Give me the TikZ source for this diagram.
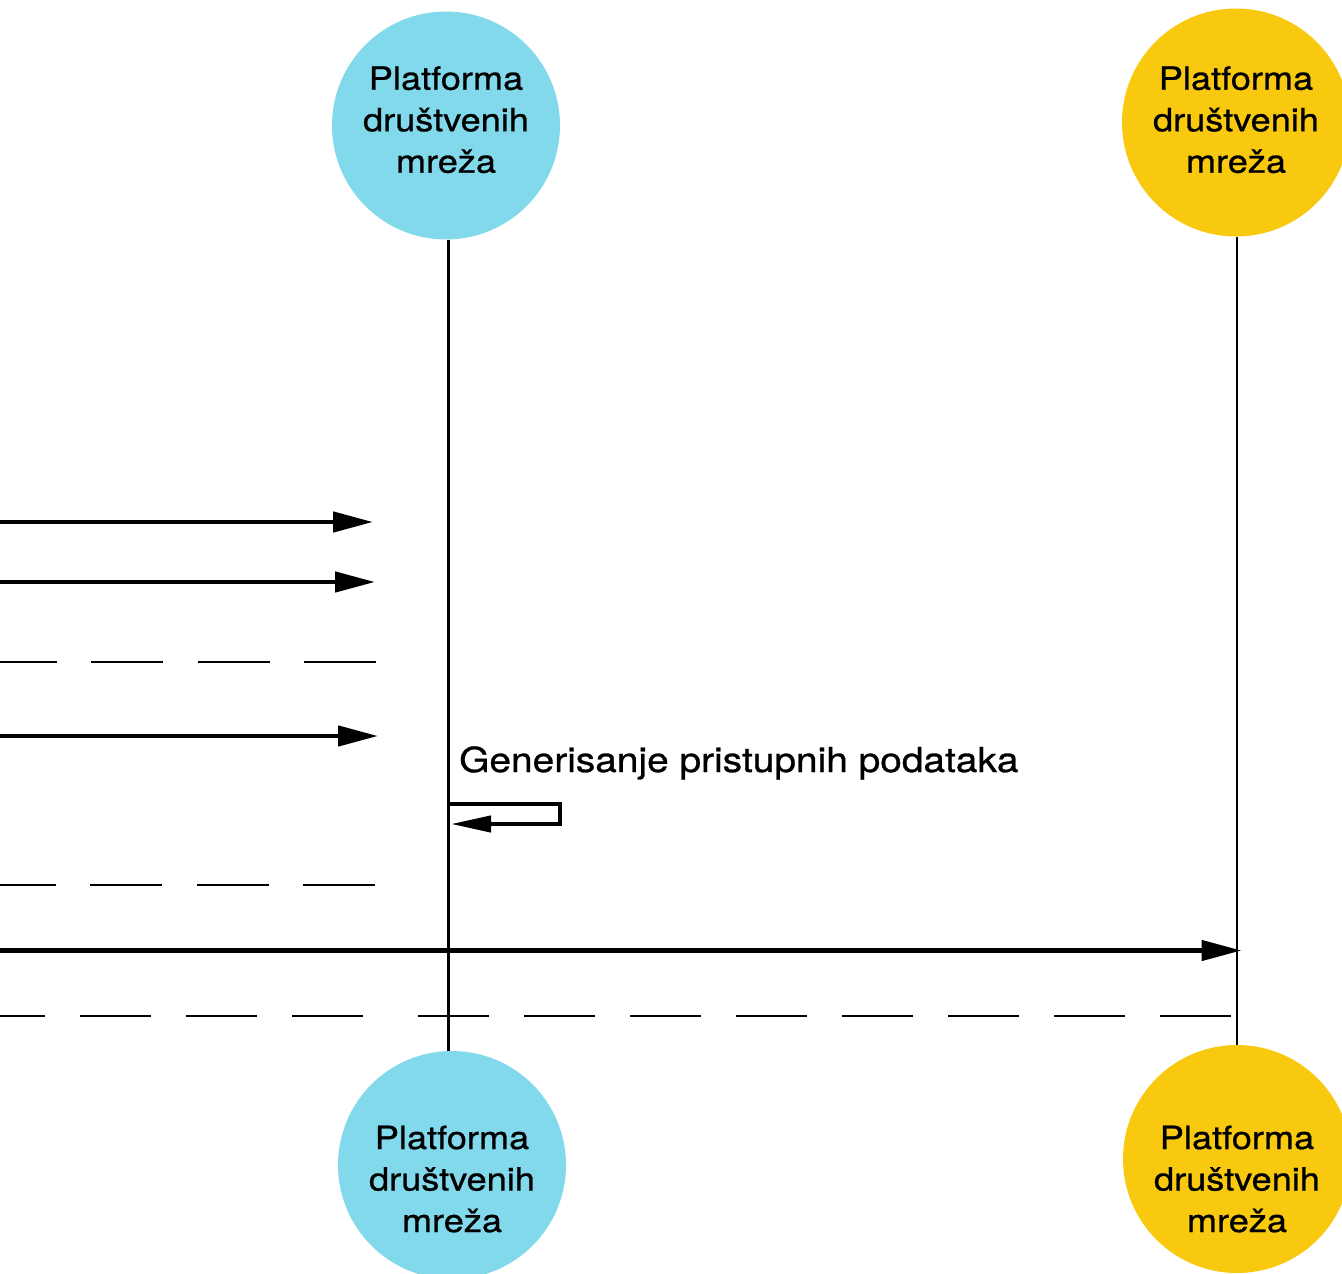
\documentclass[tikz,border=0pt]{standalone}
\usepackage{fontspec}
\setmainfont{TeX Gyre Heros}[FakeStretch=1.13, FakeBold=0.8]
\usetikzlibrary{arrows.meta}

\definecolor{partblue}{RGB}{131,217,236}
\definecolor{partyellow}{RGB}{248,201,14}

\tikzset{
  participant/.style={circle, minimum size=228pt, inner sep=0pt, align=center,
    font=\fontsize{32}{41.5}\selectfont, text depth=12pt},
  footparticipant/.style={participant, text height=134pt, text depth=0pt},
  lifeline/.style={line width=2.3pt},
  msg/.style={line width=4.6pt, -{Triangle[length=40pt,width=20pt]}},
  selfmsg/.style={line width=4.2pt, line join=miter, -{Triangle[length=40pt,width=16pt]}},
  reply/.style={line width=2.2pt, dash pattern=on 72pt off 34.5pt},
  note/.style={font=\fontsize{34.4}{40}\selectfont, inner sep=0pt, anchor=base west}
}

\begin{document}
\begin{tikzpicture}[x=1pt,y=-1pt]
  \useasboundingbox (0,0) rectangle (1342,1274);

  % participants, head and foot
  \node[participant, fill=partblue]   (ptb) at (446,125.5) {Platforma\\društvenih\\mreža};
  \node[participant, fill=partyellow, text depth=6pt] (pty) at (1236,122.5) {Platforma\\društvenih\\mreža};
  \node[footparticipant, fill=partblue]   (pbb) at (452,1165) {Platforma\\društvenih\\mreža};
  \node[footparticipant, fill=partyellow, text height=146pt] (pby) at (1237,1159) {Platforma\\društvenih\\mreža};

  % lifelines
  \coordinate (lb) at (448.5,0);
  \coordinate (ly) at (1237.3,0);
  \draw[lifeline] (ptb.south -| lb) -- (pbb.north -| lb);
  \draw[lifeline] (pty.south -| ly) -- (pby.north -| ly);

  % incoming calls from the left
  \coordinate (m1a) at (-10,522);   \coordinate (m1b) at (373,522);
  \coordinate (m2a) at (-10,582);   \coordinate (m2b) at (375,582);
  \coordinate (m3a) at (-10,736);   \coordinate (m3b) at (378,736);
  \draw[msg] (m1a) -- (m1b);
  \draw[msg] (m2a) -- (m2b);
  \draw[msg] (m3a) -- (m3b);

  % returns to the left
  \coordinate (r1a) at (376,662);   \coordinate (r1b) at (0,662);
  \coordinate (r2a) at (375,885);   \coordinate (r2b) at (0,885);
  \draw[reply] (r1a) -- (r1b);
  \draw[reply] (r2a) -- (r2b);

  % self call on the blue lifeline
  \node[note] (gen) at (459,772) {Generisanje pristupnih podataka};
  \coordinate (s1) at (448.5,804);
  \coordinate (sr) at (560,824);
  \coordinate (s2) at (451,824);
  \draw[selfmsg] (s1) -| (sr) |- (s2);

  % call to the yellow participant and its return
  \coordinate (m4a) at (-10,950.5);
  \coordinate (m4b) at (1241.5,950.5);
  \draw[msg] (m4a) -- (m4b);
  \coordinate (r3a) at (1231,1016); \coordinate (r3b) at (418,1016);
  \coordinate (r3c) at (363,1016);  \coordinate (r3d) at (0,1016);
  \draw[reply, dash pattern=on 71pt off 35pt] (r3a) -- (r3b) (r3c) -- (r3d);
\end{tikzpicture}
\end{document}
